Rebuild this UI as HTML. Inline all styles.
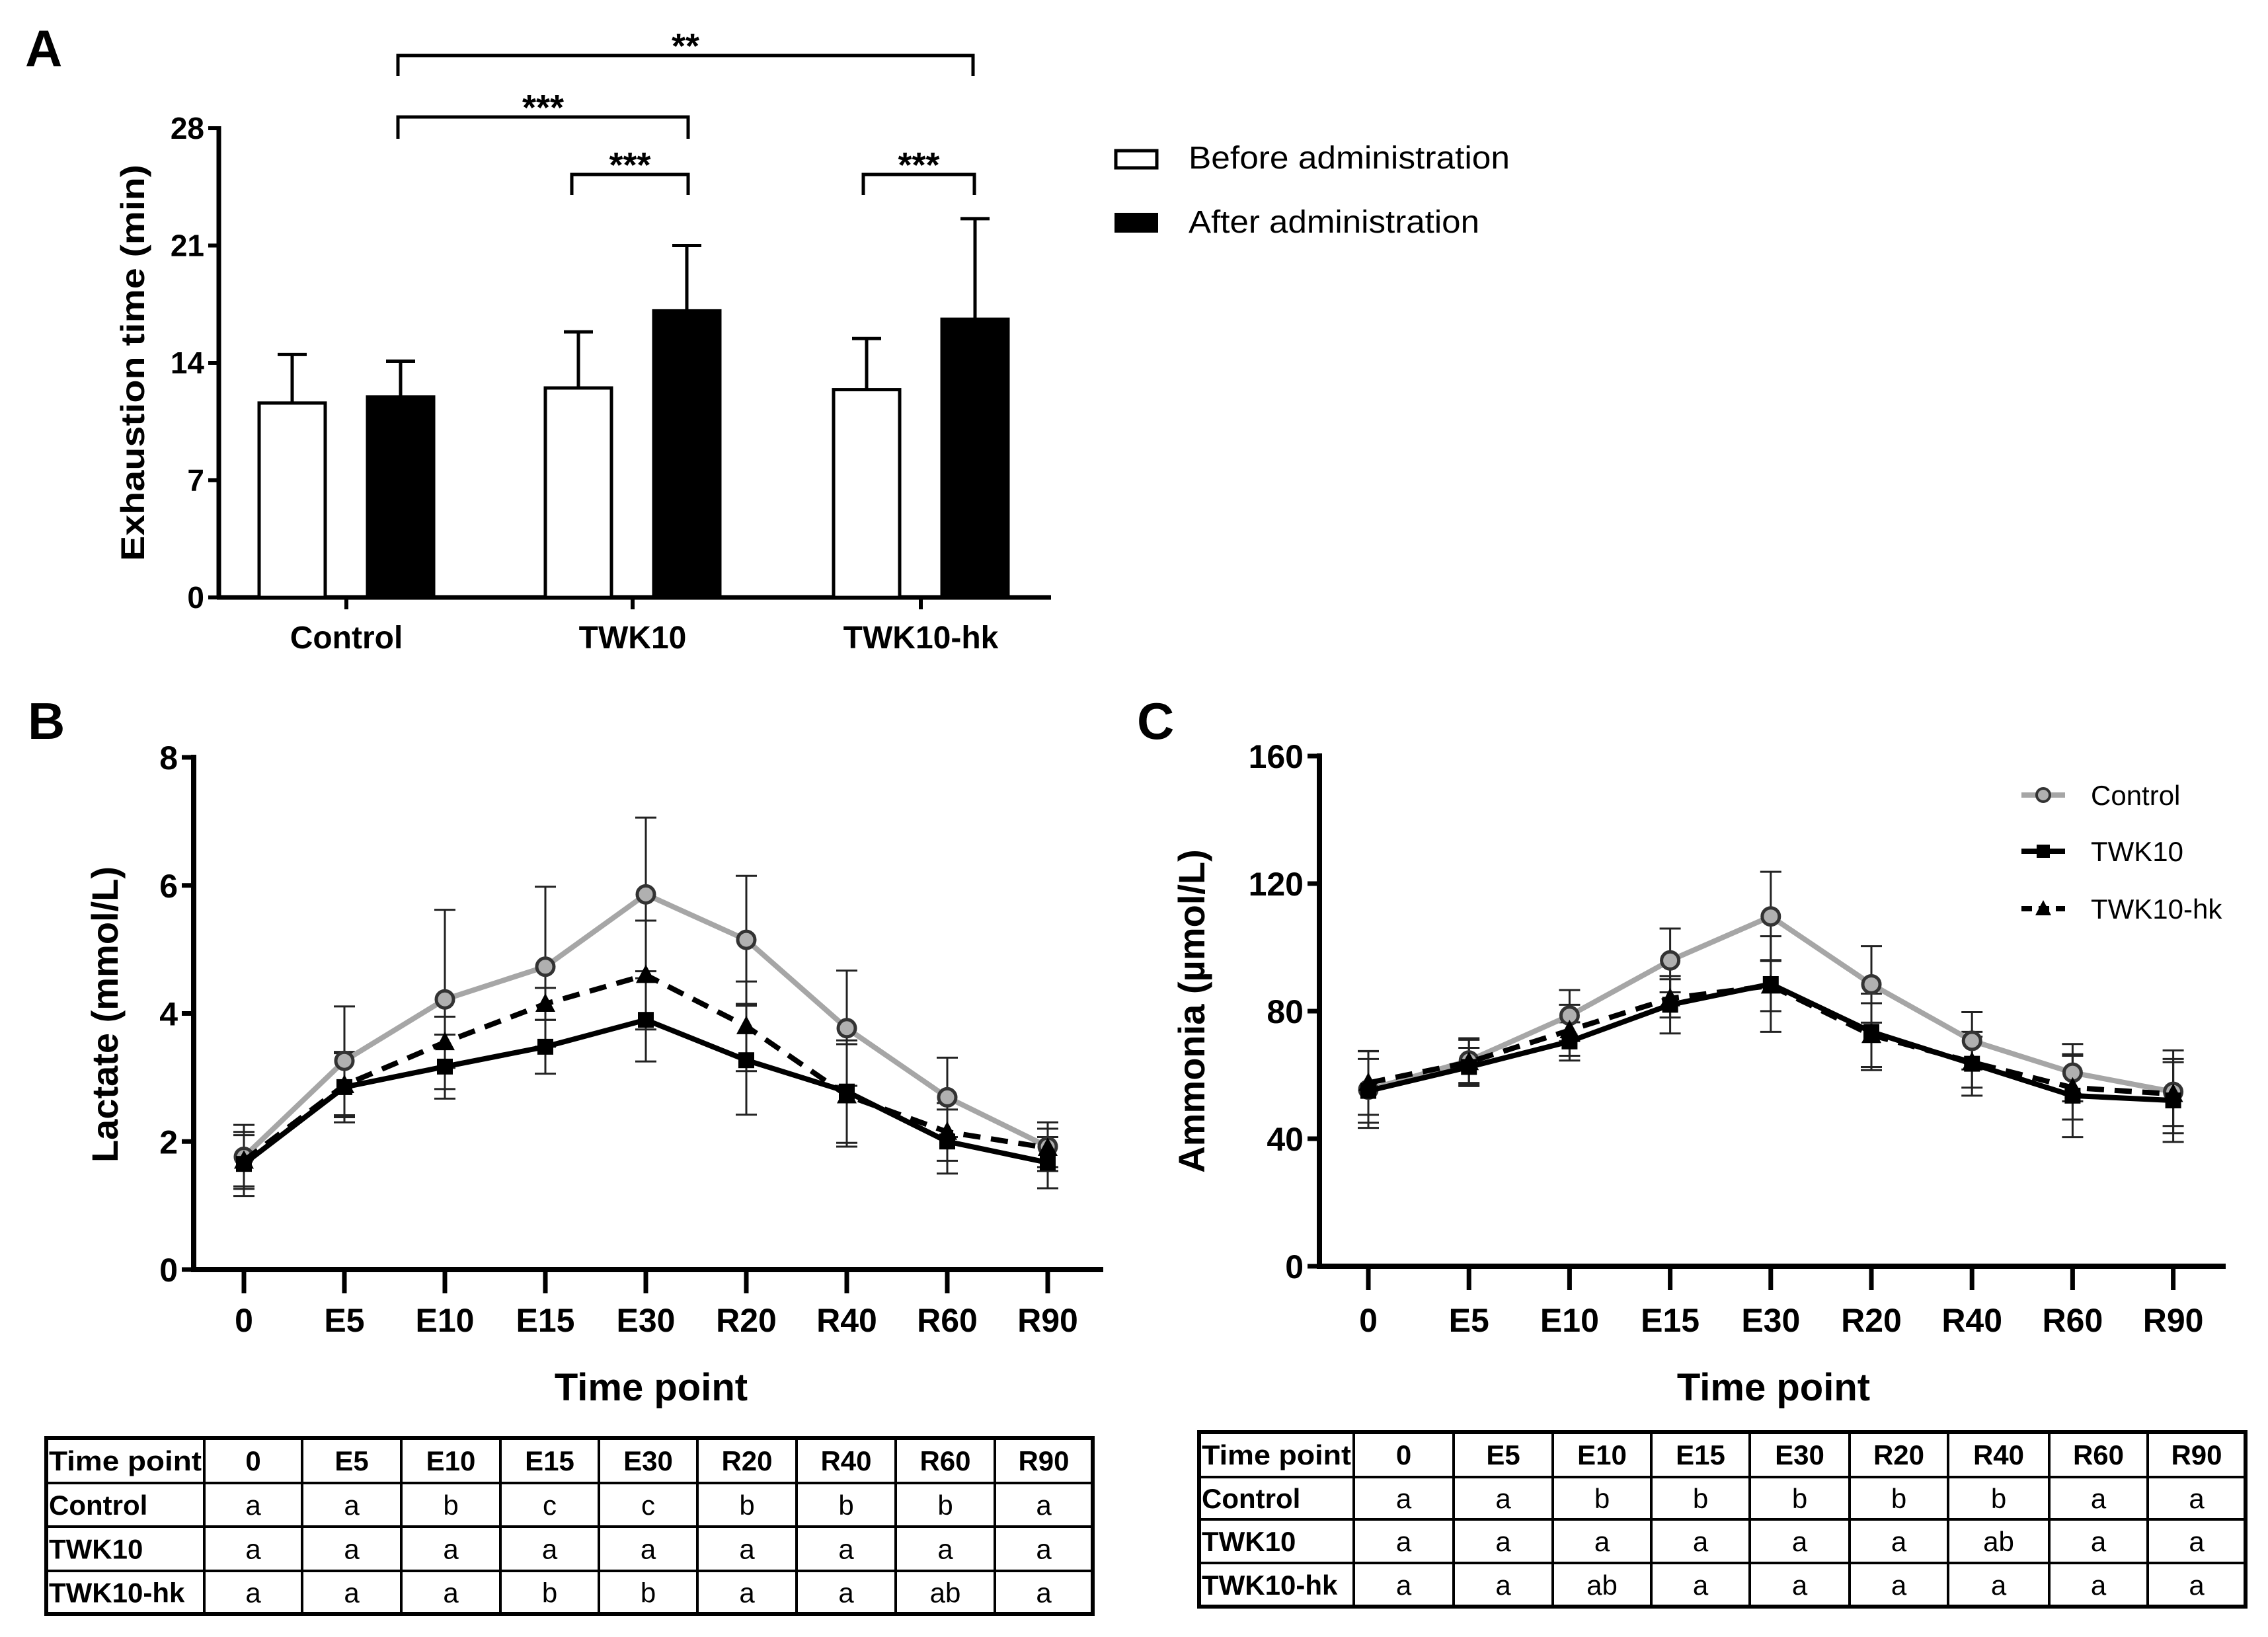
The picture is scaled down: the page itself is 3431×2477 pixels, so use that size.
<!DOCTYPE html>
<html><head><meta charset="utf-8">
<style>
html,body{margin:0;padding:0;background:#fff;}
svg{display:block;}
text{font-family:"Liberation Sans",Arial,sans-serif;}
.nar{font-family:"Liberation Sans Narrow","Liberation Sans",sans-serif;font-weight:bold;}
.tbl{font-family:"Liberation Sans",sans-serif;}
</style></head>
<body>
<svg id="root" width="3431" height="2477" viewBox="0 0 3431 2477" xmlns="http://www.w3.org/2000/svg">
<rect width="3431" height="2477" fill="#fff"/>
<text x="38" y="100" font-size="78" font-weight="bold">A</text>
<text x="42" y="1118" font-size="78" font-weight="bold">B</text>
<text x="1720" y="1118" font-size="78" font-weight="bold">C</text>
<g id="gA"></g>
<g id="gB"></g>
<g id="gC"></g>
<g id="tB"></g>
<g id="tC"></g>
</svg>
<script>
const NS="http://www.w3.org/2000/svg";
function mk(parent,tag,attrs,txt){const e=document.createElementNS(NS,tag);for(const k in attrs)e.setAttribute(k,attrs[k]);if(txt!==undefined)e.textContent=txt;parent.appendChild(e);return e;}

/* ---------- Panel A data ---------- */
const aGroups=["Control","TWK10","TWK10-hk"];
const aBefore=[11.6,12.5,12.4];
const aBeforeErr=[2.9,3.35,3.05];
const aAfter=[11.96,17.1,16.6];
const aAfterErr=[2.14,3.9,6.0];
const aTicks=[0,7,14,21,28];

/* ---------- Panel B data ---------- */
const timePoints=["0","E5","E10","E15","E30","R20","R40","R60","R90"];
const bControl=[1.76,3.26,4.22,4.73,5.86,5.15,3.77,2.69,1.92];
const bControlSD=[0.5,0.85,1.4,1.25,1.2,1.0,0.9,0.62,0.38];
const bTWK10=[1.65,2.85,3.17,3.48,3.9,3.27,2.78,2.0,1.67];
const bTWK10SD=[0.5,0.55,0.5,0.42,0.65,0.85,0.8,0.5,0.4];
const bHK=[1.7,2.88,3.55,4.15,4.6,3.8,2.72,2.15,1.9];
const bHKSD=[0.4,0.5,0.4,0.25,0.85,0.7,0.8,0.45,0.3];
const bTicks=[0,2,4,6,8];

/* ---------- Panel C data ---------- */
const cControl=[55.4,64.5,78.6,95.9,109.7,88.4,70.7,60.7,54.7];
const cControlSD=[12,7,8,10,14,12,9,9,13];
const cTWK10=[55,62.5,70.5,82,88.5,73.5,63.5,53.5,52];
const cTWK10SD=[10,6,6,9,15,12,10,13,13];
const cHK=[57.5,64,74,84,88,72.5,64,56,54];
const cHKSD=[10,7,8,6,8,10,8,10,10];
const cTicks=[0,40,80,120,160];

/* ---------- Tables ---------- */
const tableRows=["Control","TWK10","TWK10-hk"];
const bLetters=[["a","a","b","c","c","b","b","b","a"],["a","a","a","a","a","a","a","a","a"],["a","a","a","b","b","a","a","ab","a"]];
const cLetters=[["a","a","b","b","b","b","b","a","a"],["a","a","a","a","a","a","ab","a","a"],["a","a","ab","a","a","a","a","a","a"]];

/* ===== Panel A ===== */
(function(){
const g=document.getElementById('gA');
const x0=331,y0=904,yTop=194,vmax=28;
const Y=v=>y0-(v/vmax)*(y0-yTop);
const gc=[524,957,1393];
const off=82,bw=100;
let e=mk(g,'line',{x1:x0,y1:yTop-3,x2:x0,y2:y0+3,stroke:'#000','stroke-width':7});


e=mk(g,'line',{x1:x0-3,y1:y0,x2:1590,y2:y0,stroke:'#000','stroke-width':7});


aTicks.forEach(t=>{
 let l=mk(g,'line',{x1:x0-16,y1:Y(t),x2:x0,y2:Y(t),stroke:'#000','stroke-width':6});
 
 
 let tx=mk(g,'text',{x:x0-22,y:Y(t)+16,'text-anchor':'end','font-size':46,class:'nar'},String(t));
 
 
});
let ti=mk(g,'text',{x:0,y:0,transform:'translate(218,549) rotate(-90)','text-anchor':'middle','font-size':50,'font-weight':'bold',textLength:600,lengthAdjust:'spacingAndGlyphs'},'Exhaustion time (min)');


aGroups.forEach((name,i)=>{
 let tk=mk(g,'line',{x1:gc[i],y1:y0,x2:gc[i],y2:y0+18,stroke:'#000','stroke-width':6});
 
 
 let lb=mk(g,'text',{x:gc[i],y:981,'text-anchor':'middle','font-size':48,class:'nar'},name);
 
 
 [[aBefore,aBeforeErr,-off,'#fff','before'],[aAfter,aAfterErr,off,'#000','after']].forEach(s=>{
  const cx=gc[i]+s[2],v=s[0][i],er=s[1][i];
  let eb=mk(g,'line',{x1:cx,y1:Y(v),x2:cx,y2:Y(v+er),stroke:'#000','stroke-width':5});
  
  
  let cap=mk(g,'line',{x1:cx-22,y1:Y(v+er),x2:cx+22,y2:Y(v+er),stroke:'#000','stroke-width':5});
  
  
  let b=mk(g,'rect',{x:cx-bw/2,y:Y(v),width:bw,height:y0-Y(v),fill:s[3],stroke:'#000','stroke-width':5});
  
  
 });
});
const br=[[602,1472,84,115,'**'],[602,1041,177,210,'***'],[865,1041,264,295,'***'],[1306,1474,264,295,'***']];
br.forEach(b=>{
 let p=mk(g,'path',{d:`M${b[0]},${b[3]} V${b[2]} H${b[1]} V${b[3]}`,fill:'none',stroke:'#000','stroke-width':5});
 
 
 let s=mk(g,'text',{x:(b[0]+b[1])/2,y:b[2]+4,'text-anchor':'middle','font-size':54,class:'nar'},b[4]);
 
 
});
let r1=mk(g,'rect',{x:1688,y:228,width:62,height:26,fill:'#fff',stroke:'#000','stroke-width':5});


let t1=mk(g,'text',{x:1798,y:255,'font-size':48,textLength:486,lengthAdjust:'spacingAndGlyphs'},'Before administration');


let r2=mk(g,'rect',{x:1686,y:322,width:66,height:30,fill:'#000'});


let t2=mk(g,'text',{x:1798,y:352,'font-size':48,textLength:440,lengthAdjust:'spacingAndGlyphs'},'After administration');


})();

/* ===== Line panels ===== */
function linePanel(gid,o){
const g=document.getElementById(gid);
const X=i=>o.x0tick+i*o.dx;
const Y=v=>o.y0-(v/o.vmax)*(o.y0-o.yTop);
let e=mk(g,'line',{x1:o.ax,y1:o.yTop-4,x2:o.ax,y2:o.y0+4,stroke:'#000','stroke-width':8});


e=mk(g,'line',{x1:o.ax-4,y1:o.y0,x2:o.xEnd,y2:o.y0,stroke:'#000','stroke-width':8});


o.ticks.forEach(t=>{
 let l=mk(g,'line',{x1:o.ax-18,y1:Y(t),x2:o.ax,y2:Y(t),stroke:'#000','stroke-width':7});
 
 
 let tx=mk(g,'text',{x:o.ax-24,y:Y(t)+18,'text-anchor':'end','font-size':50,'font-weight':'bold'},String(t));
 
 
});
timePoints.forEach((tp,i)=>{
 let l=mk(g,'line',{x1:X(i),y1:o.y0,x2:X(i),y2:o.y0+36,stroke:'#000','stroke-width':7});
 
 
 let tx=mk(g,'text',{x:X(i),y:2015,'text-anchor':'middle','font-size':50,'font-weight':'bold'},tp);
 
 
});
let xt=mk(g,'text',{x:o.xtc,y:2119,'text-anchor':'middle','font-size':58,'font-weight':'bold'},'Time point');


let yt=mk(g,'text',{x:0,y:0,transform:`translate(${o.ytx},${o.yty}) rotate(-90)`,'text-anchor':'middle','font-size':56,'font-weight':'bold'},o.ytitle);


const series=[
 {v:o.ctl,sd:o.ctlsd,color:'#a6a6a6',dash:'',mark:'circle',name:'control'},
 {v:o.hk,sd:o.hksd,color:'#000',dash:'26,16',mark:'tri',name:'twk10-hk'},
 {v:o.twk,sd:o.twksd,color:'#000',dash:'',mark:'sq',name:'twk10'}];
series.forEach(s=>{
 s.v.forEach((v,i)=>{
  const cx=X(i);
  let eb=mk(g,'line',{x1:cx,y1:Y(v-s.sd[i]),x2:cx,y2:Y(v+s.sd[i]),stroke:'#222','stroke-width':3});
  
  
  [v-s.sd[i],v+s.sd[i]].forEach(cv=>{
   let c=mk(g,'line',{x1:cx-16,y1:Y(cv),x2:cx+16,y2:Y(cv),stroke:'#222','stroke-width':3});
   
   
  });
 });
});
series.forEach(s=>{
 const pts=s.v.map((v,i)=>X(i)+','+Y(v)).join(' ');
 let pl=mk(g,'polyline',{points:pts,fill:'none',stroke:s.color,'stroke-width':8,'stroke-dasharray':s.dash,'stroke-linejoin':'round'});
 
 
 s.v.forEach((v,i)=>{
  const cx=X(i),cy=Y(v);let m;
  if(s.mark==='circle'){m=mk(g,'circle',{cx:cx,cy:cy,r:13,fill:'#b0b0b0',stroke:'#333','stroke-width':5});}
  else if(s.mark==='sq'){m=mk(g,'rect',{x:cx-12,y:cy-12,width:24,height:24,fill:'#000'});}
  else {m=mk(g,'polygon',{points:`${cx},${cy-16} ${cx-15},${cy+12} ${cx+15},${cy+12}`,fill:'#000'});}
  
  
 });
});
if(o.legend){
 const L=[[1203,'#a6a6a6','','circle','Control'],[1288,'#000','','sq','TWK10'],[1375,'#000','16,10','tri','TWK10-hk']];
 L.forEach(l=>{
  let ln=mk(g,'line',{x1:3058,y1:l[0],x2:3124,y2:l[0],stroke:l[1],'stroke-width':8,'stroke-dasharray':l[2]});
  
  
  const cx=3091,cy=l[0];let m;
  if(l[3]==='circle')m=mk(g,'circle',{cx:cx,cy:cy,r:10,fill:'#b0b0b0',stroke:'#333','stroke-width':4});
  else if(l[3]==='sq')m=mk(g,'rect',{x:cx-10,y:cy-10,width:20,height:20,fill:'#000'});
  else m=mk(g,'polygon',{points:`${cx},${cy-13} ${cx-12},${cy+10} ${cx+12},${cy+10}`,fill:'#000'});
  
  
  let t=mk(g,'text',{x:3163,y:cy+15,'font-size':42},l[4]);
  
  
 });
}
}
linePanel('gB',{ax:293,x0tick:369,dx:152,y0:1921,yTop:1146,vmax:8,xEnd:1669,ticks:bTicks,xtc:985,ytx:178,yty:1535,ytitle:'Lactate (mmol/L)',ctl:bControl,ctlsd:bControlSD,twk:bTWK10,twksd:bTWK10SD,hk:bHK,hksd:bHKSD,legend:false});
linePanel('gC',{ax:1996,x0tick:2070,dx:152.2,y0:1916,yTop:1144,vmax:160,xEnd:3367,ticks:cTicks,xtc:2683,ytx:1822,yty:1530,ytitle:'Ammonia (\u00b5mol/L)',ctl:cControl,ctlsd:cControlSD,twk:cTWK10,twksd:cTWK10SD,hk:cHK,hksd:cHKSD,legend:true});

/* ===== Tables ===== */
function table(gid,cols,rows,letters){
const g=document.getElementById(gid);
const x0=cols[0],x1=cols[cols.length-1],y0=rows[0],y1=rows[rows.length-1];
let r=mk(g,'rect',{x:x0,y:y0,width:x1-x0,height:y1-y0,fill:'none',stroke:'#000','stroke-width':6});


cols.slice(1,-1).forEach(c=>{let l=mk(g,'line',{x1:c,y1:y0,x2:c,y2:y1,stroke:'#000','stroke-width':4});
 
 });
rows.slice(1,-1).forEach(c=>{let l=mk(g,'line',{x1:x0,y1:c,x2:x1,y2:c,stroke:'#000','stroke-width':4});
 
 });
const header=["Time point"].concat(timePoints);
header.forEach((h,j)=>{
 const cx=j===0?x0+4:(cols[j]+cols[j+1])/2;
 let t=mk(g,'text',{x:cx,y:(rows[0]+rows[1])/2+15,'text-anchor':j===0?'start':'middle','font-size':42,'font-weight':'bold',class:'tbl'},h);
 if(j===0){t.setAttribute('textLength',cols[1]-x0-8);t.setAttribute('lengthAdjust','spacingAndGlyphs');}
 
 
});
tableRows.forEach((rn,i)=>{
 const cy=(rows[i+1]+rows[i+2])/2+15;
 let t=mk(g,'text',{x:x0+4,y:cy,'font-size':42,'font-weight':'bold',class:'tbl'},rn);
 
 
 letters[i].forEach((lt,j)=>{
  let c=mk(g,'text',{x:(cols[j+1]+cols[j+2])/2,y:cy,'text-anchor':'middle','font-size':42,class:'tbl'},lt);
  
  
 });
});
}
table('tB',[70,309,457,607,757,906,1055,1205,1355,1505,1653],[2176,2244,2310,2377,2442],bLetters);
table('tC',[1814,2048,2199,2349,2498,2647,2798,2947,3100,3249,3397],[2167,2235,2299,2365,2431],cLetters);
</script>
</body></html>
